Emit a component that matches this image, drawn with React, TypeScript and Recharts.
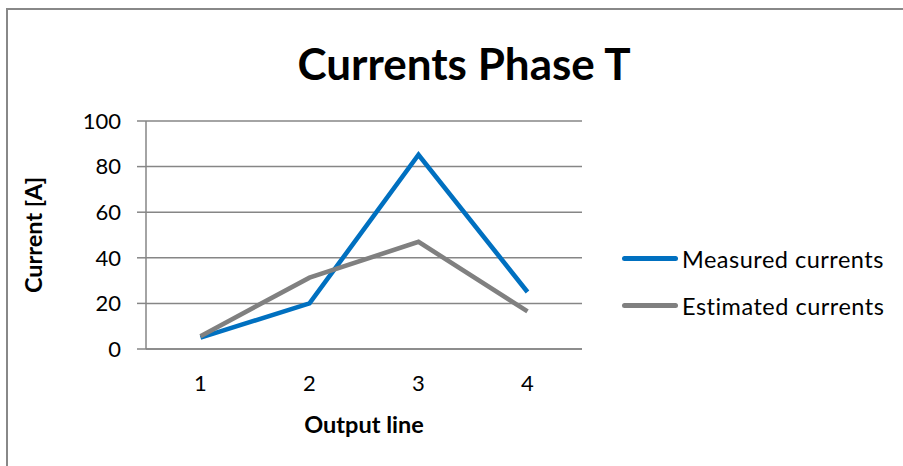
import { LineChart, Line, XAxis, YAxis, CartesianGrid } from 'recharts';

const outputLines = ['1', '2', '3', '4'];
const measured = [5, 20, 85.2, 25];
const estimated = [5.6, 31.3, 47, 16.5];
const yTicks = [0, 20, 40, 60, 80, 100];

const seriesInfo = [
    { key: 'measured', name: 'Measured currents', color: '#0070C0' },
    { key: 'estimated', name: 'Estimated currents', color: '#808080' },
];

const data = outputLines.map((line, i) => ({
    line,
    measured: measured[i],
    estimated: estimated[i],
}));

const FONT = 'Lato, "DejaVu Sans", sans-serif';
const AXIS_GRAY = '#868686';

const YTitle = (props: any) => {
    const { viewBox } = props;
    const cx = viewBox.x - 44;
    const cy = viewBox.y + viewBox.height / 2;
    return (
        <text x={cx} y={cy} transform={`rotate(-90 ${cx} ${cy})`} textAnchor="middle"
            fill="#000" fontSize={23.5} fontWeight={700} fontFamily={FONT}>
            Current [A]
        </text>
    );
};

const App = () => {
    return (
        <div style={{ position: 'fixed', left: 0, top: 0, width: 903, height: 466, background: '#fff', fontFamily: FONT, overflow: 'hidden' }}>
            <div style={{ position: 'absolute', left: 6, top: 7.5, width: 920, height: 480, borderTop: '2px solid #888', borderLeft: '2px solid #888' }} />
            <div style={{ position: 'absolute', left: 0, width: 928, top: 41, textAlign: 'center', fontSize: 44, fontWeight: 700, lineHeight: '44px', color: '#000' }}>
                Currents Phase T
            </div>
            <div style={{ position: 'absolute', left: 0, top: 0 }}>
                <LineChart width={903} height={466} data={data} margin={{ top: 121, right: 321, left: 86, bottom: 87 }}>
                    <CartesianGrid vertical={false} stroke={AXIS_GRAY} strokeWidth={1.5} />
                    <XAxis
                        dataKey="line"
                        height={30}
                        padding={{ left: 54.5, right: 54.5 }}
                        axisLine={{ stroke: AXIS_GRAY, strokeWidth: 1.5 }}
                        tickLine={false}
                        tick={{ fill: '#000', fontSize: 22, fontFamily: FONT }}
                        dy={18}
                        label={{ value: 'Output line', position: 'insideBottom', offset: -54, fill: '#000', fontSize: 23.5, fontWeight: 700, fontFamily: FONT }}
                    />
                    <YAxis
                        width={60}
                        domain={[0, 100]}
                        ticks={yTicks}
                        axisLine={{ stroke: AXIS_GRAY, strokeWidth: 1.5 }}
                        tickLine={{ stroke: AXIS_GRAY, strokeWidth: 1.5 }}
                        tickSize={9}
                        tick={{ fill: '#000', fontSize: 22, fontFamily: FONT }}
                        dx={-14}
                        label={<YTitle />}
                    />
                    {seriesInfo.map((s) => (
                        <Line
                            key={s.key}
                            type="linear"
                            dataKey={s.key}
                            name={s.name}
                            stroke={s.color}
                            strokeWidth={4.6}
                            dot={false}
                            activeDot={false}
                            isAnimationActive={false}
                        />
                    ))}
                </LineChart>
            </div>
            <div style={{ position: 'absolute', left: 622, top: 235 }}>
                {seriesInfo.map((s) => (
                    <div key={s.key} style={{ display: 'flex', alignItems: 'center', height: 47 }}>
                        <div style={{ width: 56, height: 5, borderRadius: 3, background: s.color, marginRight: 4 }} />
                        <span style={{ fontSize: 23.5, color: '#000', lineHeight: '30px', letterSpacing: 0.5 }}>{s.name}</span>
                    </div>
                ))}
            </div>
        </div>
    );
};

export default App;
